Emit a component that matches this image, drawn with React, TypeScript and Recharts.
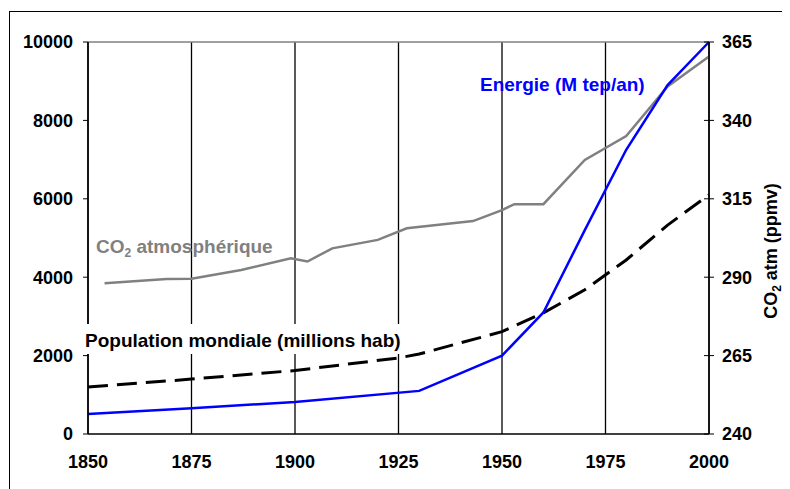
import React from "react";
import {
  LineChart,
  Line,
  XAxis,
  YAxis,
  CartesianGrid,
  ReferenceLine,
} from "recharts";

// values
const yearTicks = [1850, 1875, 1900, 1925, 1950, 1975, 2000];
const leftTicks = [0, 2000, 4000, 6000, 8000, 10000];
const rightTicks = [240, 265, 290, 315, 340, 365];

const energyYears = [1850, 1875, 1900, 1930, 1950, 1960, 1970, 1980, 1990, 2000];
const energyValues = [510, 660, 815, 1100, 2000, 3100, 5200, 7250, 8900, 10000];

const popYears = [1850, 1875, 1900, 1925, 1930, 1950, 1960, 1970, 1980, 1990, 2000];
const popValues = [1200, 1400, 1620, 1940, 2040, 2610, 3090, 3680, 4440, 5330, 6100];

const co2Years = [1854, 1869, 1875, 1887, 1899, 1903, 1909, 1920, 1927, 1943, 1950, 1953, 1960, 1970, 1980, 1990, 2000];
const co2Values = [288.1, 289.4, 289.5, 292.3, 296.0, 295.0, 299.2, 301.9, 305.6, 307.9, 311.4, 313.3, 313.3, 327.4, 335.0, 350.8, 360.4];

const toRows = (years: number[], values: number[]) =>
  years.map((year, i) => ({ year, value: values[i] }));

const energyData = toRows(energyYears, energyValues);
const popData = toRows(popYears, popValues);
const co2Data = toRows(co2Years, co2Values);

const FONT = '"Liberation Sans", Arial, sans-serif';
const tickStyle = { fontSize: 18, fontWeight: 700, fill: "#000", fontFamily: FONT };

function RightTick(props: any) {
  const { x, y, payload } = props;
  return (
    <g>
      <line x1={x - 18} x2={x - 8} y1={y} y2={y} stroke="#000" strokeWidth={1} />
      <text x={x} y={y} dy="0.355em" textAnchor="start" {...tickStyle}>
        {payload.value}
      </text>
    </g>
  );
}

const Sub = ({ children }: { children: React.ReactNode }) => (
  <span style={{ fontSize: 12, position: "relative", top: 4 }}>{children}</span>
);

const labelBase: React.CSSProperties = {
  position: "absolute",
  fontFamily: FONT,
  fontWeight: 700,
  fontSize: 19,
  lineHeight: "19px",
  whiteSpace: "nowrap",
};

export default function App() {
  return (
    <div style={{ position: "relative", width: 782, height: 481, overflow: "hidden", background: "#fff" }}>
      <LineChart
        width={782}
        height={481}
        margin={{ top: 34, right: 11, left: 0, bottom: 25 }}
        style={{ position: "absolute", left: 0, top: 0 }}
      >
        <CartesianGrid yAxisId="left" horizontal={false} stroke="#000" strokeWidth={1.3} />
        <XAxis
          dataKey="year"
          type="number"
          domain={[1850, 2000]}
          ticks={yearTicks}
          allowDuplicatedCategory={false}
          height={30}
          axisLine={{ stroke: "#000", strokeWidth: 1.5 }}
          tickLine={false}
          tickSize={0}
          tickMargin={21}
          tick={tickStyle}
        />
        <YAxis
          yAxisId="left"
          domain={[0, 10000]}
          ticks={leftTicks}
          width={80}
          axisLine={{ stroke: "#000", strokeWidth: 1.5 }}
          tickLine={{ stroke: "#000" }}
          tickSize={5}
          tickMargin={10}
          tick={tickStyle}
        />
        <YAxis
          yAxisId="right"
          orientation="right"
          domain={[240, 365]}
          ticks={rightTicks}
          width={70}
          axisLine={{ stroke: "#000", strokeWidth: 1.5 }}
          tickLine={false}
          tickSize={5}
          tickMargin={8}
          tick={<RightTick />}
        />
        <ReferenceLine yAxisId="left" y={10000} stroke="#808080" strokeWidth={1.5} />
        <Line
          yAxisId="right"
          data={co2Data}
          dataKey="value"
          type="linear"
          stroke="#808080"
          strokeWidth={2.5}
          dot={false}
          isAnimationActive={false}
        />
        <Line
          yAxisId="left"
          data={popData}
          dataKey="value"
          type="linear"
          stroke="#000"
          strokeWidth={3}
          strokeDasharray="20 9"
          dot={false}
          isAnimationActive={false}
        />
        <Line
          yAxisId="left"
          data={energyData}
          dataKey="value"
          type="linear"
          stroke="#0000FF"
          strokeWidth={2.5}
          dot={false}
          isAnimationActive={false}
        />
      </LineChart>

      <div
        style={{
          position: "absolute",
          left: 1,
          top: 3,
          width: 800,
          height: 500,
          borderLeft: "1.5px solid #000",
          borderTop: "1.5px solid #000",
          pointerEvents: "none",
        }}
      />
      <div style={{ ...labelBase, left: 472, top: 67, color: "#0000FF" }}>Energie (M tep/an)</div>
      <div style={{ ...labelBase, left: 88, top: 229, color: "#808080" }}>
        CO<Sub>2</Sub> atmosphérique
      </div>
      <div
        style={{
          ...labelBase,
          left: 75,
          top: 316,
          color: "#000",
          background: "#fff",
          padding: "7px 3px 4px 2px",
        }}
      >
        Population mondiale (millions hab)
      </div>
      <div
        style={{
          ...labelBase,
          fontSize: 18,
          lineHeight: "18px",
          left: 764,
          top: 243,
          color: "#000",
          transform: "translate(-50%, -50%) rotate(-90deg)",
        }}
      >
        CO<Sub>2</Sub> atm (ppmv)
      </div>
    </div>
  );
}
